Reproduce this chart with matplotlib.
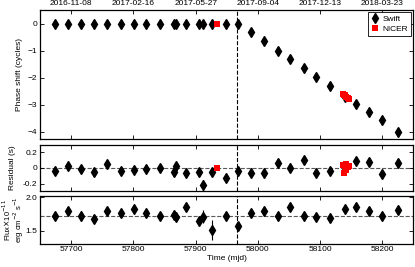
import numpy as np
import matplotlib.pyplot as plt

plt.rcParams['font.family'] = ['Liberation Sans', 'DejaVu Sans']
plt.rcParams['font.size'] = 6

# Swift observations (MJD)
swift_mjd = [57674, 57695.5, 57716, 57737, 57758, 57780, 57801, 57821, 57842,
             57864.5, 57869, 57884.5, 57905, 57911, 57926, 57948, 57968, 57989,
             58010, 58032, 58052, 58074, 58094, 58115, 58140, 58157, 58179,
             58199.5, 58225]
swift_phase = [0, 0, 0, 0, 0, 0, 0, 0, 0,
               0, 0, 0, 0, 0, 0, 0, 0, -0.33,
               -0.66, -1.02, -1.33, -1.66, -1.97, -2.30, -2.70, -2.97, -3.28,
               -3.58, -4.0]
swift_resid = [-0.04, 0.03, -0.01, -0.05, 0.055, -0.04, -0.025, -0.015, 0.0,
               -0.048, 0.026, -0.068, -0.056, -0.22, -0.056, -0.125, -0.043, -0.06,
               -0.068, 0.06, 0.004, 0.103, -0.068, -0.039, 0.0, 0.086, 0.077,
               -0.081, 0.06]
swift_resid_err = [0.05, 0.06, 0.04, 0.04, 0.04, 0.04, 0.04, 0.04, 0.04,
                   0.05, 0.05, 0.04, 0.04, 0.07, 0.04, 0.04, 0.05, 0.06,
                   0.05, 0.04, 0.06, 0.05, 0.05, 0.04, 0.04, 0.05, 0.05,
                   0.05, 0.04]
swift_flux = [1.72, 1.80, 1.72, 1.675, 1.80, 1.77, 1.825, 1.76, 1.715,
              1.73, 1.71, 1.85, 1.645, 1.71, 1.51, 1.715, 1.57, 1.77,
              1.80, 1.72, 1.86, 1.72, 1.705, 1.685, 1.82, 1.86, 1.79,
              1.72, 1.81]
swift_flux_err = [0.04, 0.04, 0.08, 0.04, 0.04, 0.04, 0.04, 0.04, 0.04,
                  0.06, 0.04, 0.05, 0.04, 0.10, 0.15, 0.04, 0.06, 0.06,
                  0.04, 0.04, 0.04, 0.05, 0.05, 0.05, 0.04, 0.04, 0.04,
                  0.04, 0.04]

# NICER observations
nicer_mjd = [57934, 58137, 58138, 58139, 58141, 58142, 58144, 58146]
nicer_phase = [0, -2.62, -2.64, -2.66, -2.70, -2.72, -2.75, -2.79]
nicer_resid = [0.0, 0.04, -0.06, 0.02, -0.03, 0.05, 0.01, 0.03]

glitch_mjd = 57967
mean_flux = 1.72

mjd_ticks = [57700, 57800, 57900, 58000, 58100, 58200]
date_labels = ['2016-11-08', '2017-02-16', '2017-05-27', '2017-09-04',
               '2017-12-13', '2018-03-23']

fig = plt.figure(figsize=(4.15, 2.67), dpi=100)
L, W = 40 / 415, 373 / 415
ax1 = fig.add_axes([L, 1 - 138.7 / 267, W, 128.7 / 267])
ax2 = fig.add_axes([L, 1 - 191.3 / 267, W, 46.8 / 267])
ax3 = fig.add_axes([L, 1 - 243.5 / 267, W, 47.2 / 267])

ms = 5.5
ax1.plot(swift_mjd, swift_phase, 'kd', ms=ms, label='Swift', zorder=3)
ax1.plot(nicer_mjd, nicer_phase, 's', color='red', ms=3.8, mew=0, label='NICER', zorder=4)

ax2.errorbar(swift_mjd, swift_resid, yerr=swift_resid_err, fmt='kd', ms=ms,
             ecolor='k', elinewidth=0.8, capsize=0, zorder=3)
ax2.plot(nicer_mjd, nicer_resid, 's', color='red', ms=3.8, mew=0, zorder=4)
ax2.axhline(0, color='0.35', ls='--', lw=0.8, zorder=1)

ax3.errorbar(swift_mjd, swift_flux, yerr=swift_flux_err, fmt='kd', ms=ms,
             ecolor='k', elinewidth=0.8, capsize=0, zorder=3)
ax3.axhline(mean_flux, color='0.35', ls='--', lw=0.8, zorder=1)

for ax in (ax1, ax2, ax3):
    ax.axvline(glitch_mjd, color='k', ls='--', lw=0.8, zorder=1)
    ax.set_xlim(57650, 58249)
    ax.set_xticks(mjd_ticks)
    ax.tick_params(direction='in', top=True, right=True, length=3, width=0.6,
                   pad=2, labelsize=6)
    for s in ax.spines.values():
        s.set_linewidth(0.9)

ax1.set_ylim(-4.26, 0.5)
ax1.set_yticks([0, -1, -2, -3, -4])
ax1.set_xticklabels(date_labels)
ax1.tick_params(labeltop=True, labelbottom=False)
ax1.set_ylabel('Phase shift (cycles)')
ax1.yaxis.set_label_coords(-17 / 373, 0.5)
leg = ax1.legend(loc='upper right', fontsize=6, handlelength=1.0, handletextpad=0.4,
                 borderpad=0.3, labelspacing=0.3, fancybox=False, edgecolor='k',
                 framealpha=1, borderaxespad=0.3)
leg.get_frame().set_linewidth(0.6)

ax2.set_ylim(-0.3, 0.3)
ax2.set_yticks([-0.2, 0, 0.2])
ax2.set_yticklabels(['-0.2', '0', '0.2'])
ax2.tick_params(labelbottom=False)
ax2.set_ylabel('Residual (s)')
ax2.yaxis.set_label_coords(-24 / 373, 0.5)

ax3.set_ylim(1.31, 2.015)
ax3.set_yticks([1.5, 2.0])
ax3.set_yticklabels(['1.5', '2.0'])
ax3.set_xlabel('Time (mjd)', labelpad=1)
ymid = 1 - 220 / 267
fig.text(7 / 415, ymid, 'Flux$\\times$10$^{-11}$', rotation=90, ha='center',
         va='center', fontsize=5.5)
fig.text(19 / 415, ymid, 'erg cm$^{-2}$ s$^{-1}$', rotation=90, ha='center',
         va='center', fontsize=5.5)

fig.savefig('out.png', dpi=100)
